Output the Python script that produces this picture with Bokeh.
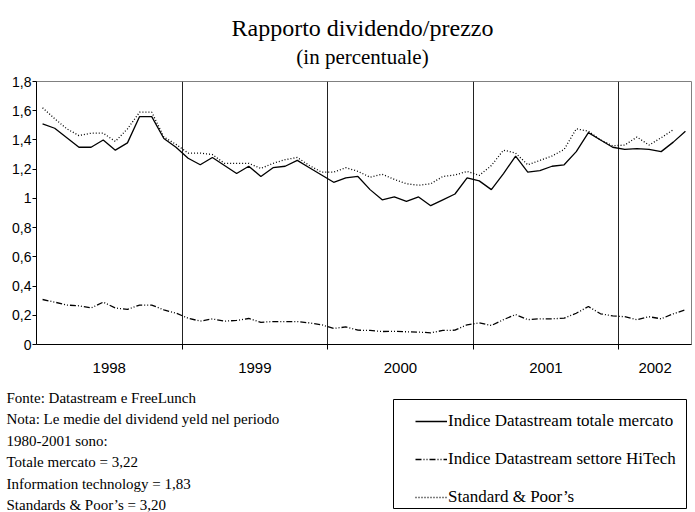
from bokeh.plotting import figure
from bokeh.models import Range1d, FixedTicker, Legend, LegendItem
from bokeh.layouts import column
from bokeh.core.properties import value
from bokeh.embed import file_html
from bokeh.resources import INLINE

# ---------------- data ----------------
years = ["1998", "1999", "2000", "2001", "2002"]
months_per_year = [12, 12, 12, 12, 6]

total_mercato = [1.51, 1.48, 1.415, 1.35, 1.35, 1.40, 1.33, 1.38, 1.56, 1.56, 1.41, 1.35,
                 1.275, 1.23, 1.28, 1.225, 1.17, 1.22, 1.15, 1.21, 1.22, 1.26, 1.21, 1.16,
                 1.11, 1.14, 1.15, 1.06, 0.99, 1.01, 0.98, 1.01, 0.95, 0.99, 1.03, 1.14,
                 1.12, 1.06, 1.17, 1.29, 1.18, 1.19, 1.22, 1.23, 1.32, 1.45, 1.40, 1.35,
                 1.335, 1.34, 1.335, 1.32, 1.385, 1.46]

settore_hitech = [0.308, 0.29, 0.27, 0.265, 0.25, 0.29, 0.25, 0.24, 0.27, 0.27, 0.237, 0.215,
                  0.18, 0.16, 0.175, 0.16, 0.165, 0.178, 0.152, 0.157, 0.157, 0.157, 0.148, 0.135,
                  0.11, 0.12, 0.098, 0.096, 0.089, 0.09, 0.087, 0.085, 0.08, 0.096, 0.098, 0.135,
                  0.148, 0.13, 0.17, 0.205, 0.17, 0.176, 0.176, 0.18, 0.214, 0.26, 0.21, 0.196,
                  0.19, 0.17, 0.19, 0.176, 0.21, 0.237]

standard_poors = [1.62, 1.545, 1.476, 1.43, 1.446, 1.446, 1.39, 1.476, 1.59, 1.59, 1.42, 1.37,
                  1.31, 1.31, 1.30, 1.24, 1.24, 1.24, 1.205, 1.24, 1.265, 1.28, 1.225, 1.18,
                  1.18, 1.21, 1.185, 1.145, 1.165, 1.13, 1.10, 1.09, 1.10, 1.15, 1.16, 1.185,
                  1.157, 1.225, 1.33, 1.31, 1.23, 1.26, 1.29, 1.335, 1.476, 1.46, 1.40, 1.36,
                  1.365, 1.42, 1.365, 1.415, 1.47, float("nan")]

y_ticks = [0, 0.2, 0.4, 0.6, 0.8, 1, 1.2, 1.4, 1.6, 1.8]
y_tick_labels = ["0", "0,2", "0,4", "0,6", "0,8", "1", "1,2", "1,4", "1,6", "1,8"]

series_labels = ["Indice Datastream totale mercato",
                 "Indice Datastream settore HiTech",
                 "Standard & Poor\u2019s"]

title_text = "Rapporto dividendo/prezzo"
subtitle_text = "(in percentuale)"
note_lines = ["Fonte: Datastream e FreeLunch",
              "Nota: Le medie del dividend yeld nel periodo",
              "1980-2001 sono:",
              "Totale mercato = 3,22",
              "Information technology = 1,83",
              "Standards & Poor\u2019s = 3,20"]

# ---------------- derived category positions ----------------
n = sum(months_per_year)
x = list(range(n))
bounds = []
centers = []
start = 0
for m in months_per_year:
    centers.append(start + (m - 1) / 2)
    if start + m < n:
        bounds.append(start + m - 0.5)
    start += m

# ---------------- layout (page pixel coords) ----------------
W = 695
HEAD_H = 70
CHART_TOP, CHART_BOT = 70, 380
FOOT_TOP, FOOT_BOT = 380, 512
FL, FR, FT, FB = 36, 691, 81, 344
LEG_L, LEG_R, LEG_T, LEG_B = 393, 686, 399, 508

SERIF = "Liberation Serif"
SANS = "Liberation Sans"

# header: title + subtitle
head = figure(width=W, height=HEAD_H, output_backend="svg", toolbar_location=None,
              x_range=Range1d(0, W), y_range=Range1d(HEAD_H, 0),
              x_axis_type=None, y_axis_type=None, frame_align=False,
              min_border_left=0, min_border_right=0, min_border_top=0, min_border_bottom=0)
head.title.visible = False
head.outline_line_color = None
head.grid.visible = False
head.text(x=[362], y=[27], text=[title_text], text_align="center", text_baseline="middle",
          text_font=value(SERIF), text_font_size="24px", text_color="black")
head.text(x=[362], y=[56], text=[subtitle_text], text_align="center", text_baseline="middle",
          text_font=value(SERIF), text_font_size="21px", text_color="black")

# chart
p = figure(width=W, height=CHART_BOT - CHART_TOP, output_backend="svg", toolbar_location=None,
           x_range=Range1d(-0.5, n - 0.5), y_range=Range1d(0, 1.8), frame_align=False,
           min_border_left=FL, min_border_right=W - FR,
           min_border_top=FT - CHART_TOP, min_border_bottom=CHART_BOT - FB)
p.title.visible = False
p.background_fill_color = "white"
p.border_fill_color = "white"
p.outline_line_color = "#808080"
p.outline_line_width = 1

p.xaxis.ticker = FixedTicker(ticks=centers, minor_ticks=bounds)
p.xaxis.major_label_overrides = {c: yl for c, yl in zip(centers, years)}
p.xaxis.major_tick_out = 0
p.xaxis.major_tick_in = 0
p.xaxis.minor_tick_out = 5
p.xaxis.minor_tick_in = 0
p.xaxis.minor_tick_line_color = "black"
p.xaxis.major_label_standoff = 13
p.xaxis.major_label_text_font = SANS
p.xaxis.major_label_text_font_size = "15px"
p.xaxis.major_label_text_color = "black"
p.xaxis.axis_line_color = "black"

p.yaxis.ticker = FixedTicker(ticks=y_ticks)
p.yaxis.major_label_overrides = {t: l for t, l in zip(y_ticks, y_tick_labels)}
p.yaxis.major_tick_out = 4
p.yaxis.major_tick_in = 0
p.yaxis.minor_tick_out = 0
p.yaxis.minor_tick_in = 0
p.yaxis.major_tick_line_color = "black"
p.yaxis.major_label_standoff = 1
p.yaxis.major_label_text_font = SANS
p.yaxis.major_label_text_font_size = "14px"
p.yaxis.major_label_text_color = "black"
p.yaxis.axis_line_color = "black"

p.xgrid.ticker = FixedTicker(ticks=bounds)
p.xgrid.grid_line_color = "#222222"
p.xgrid.grid_line_width = 1
p.ygrid.grid_line_color = None

STYLES = [dict(line_color="black", line_width=1.3),
          dict(line_color="black", line_width=1.3, line_dash="6 2 1 2 1 2"),
          dict(line_color="black", line_width=1.3, line_dash="1 2")]

p.line(x, total_mercato, **STYLES[0])
p.line(x, settore_hitech, **STYLES[1])
p.line(x, standard_poors, **STYLES[2])

# footer: notes + legend
foot = figure(width=W, height=FOOT_BOT - FOOT_TOP, output_backend="svg", toolbar_location=None,
              x_range=Range1d(0, W), y_range=Range1d(FOOT_BOT, FOOT_TOP),
              x_axis_type=None, y_axis_type=None, frame_align=False,
              min_border_left=0, min_border_right=0, min_border_top=0, min_border_bottom=0)
foot.title.visible = False
foot.outline_line_color = None
foot.grid.visible = False

note_rows = [397 + 21.5 * i for i in range(len(note_lines))]
foot.text(x=[6] * len(note_lines), y=note_rows, text=note_lines,
          text_align="left", text_baseline="middle",
          text_font=value(SERIF), text_font_size="15px", text_color="black")

# legend frame
foot.quad(left=[LEG_L], right=[LEG_R], top=[LEG_T], bottom=[LEG_B],
          fill_color=None, line_color="black", line_width=1)

nan = float("nan")
dummies = [foot.line([0, 1], [nan, nan], **s) for s in STYLES]
legend = Legend(items=[LegendItem(label=lab, renderers=[r]) for lab, r in zip(series_labels, dummies)],
                location=(415, FOOT_BOT - 507),
                border_line_color=None, background_fill_alpha=0,
                padding=0, spacing=18, margin=0,
                label_height=20, glyph_height=20, glyph_width=32,
                label_standoff=1, label_width=200,
                label_text_font=SERIF, label_text_font_size="17px",
                label_text_color="black")
foot.add_layout(legend)

layout = column(head, p, foot, spacing=0)

open("out.html", "w").write(file_html(layout, INLINE))
